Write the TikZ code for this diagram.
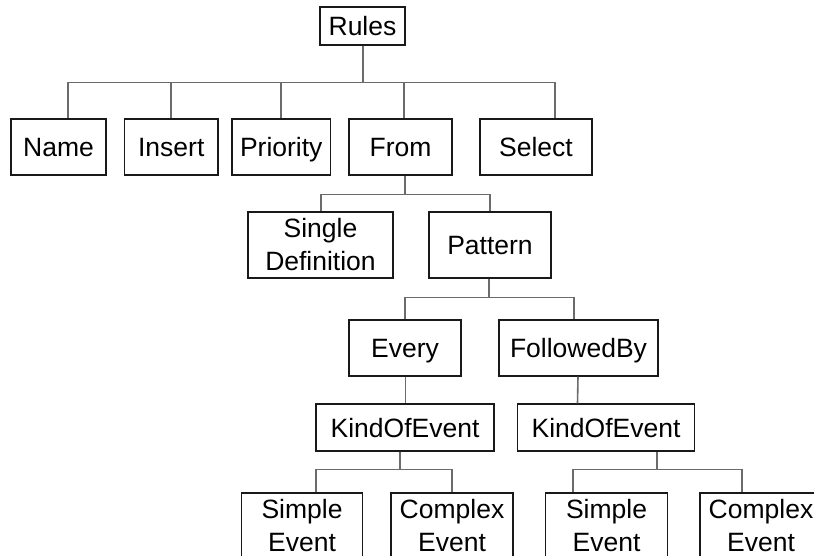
\documentclass[tikz,border=0pt]{standalone}
\usepackage{fontspec}
\setmainfont{Liberation Sans}
\begin{document}
\begin{tikzpicture}[x=1pt,y=-1pt,
  box/.style={draw=black!90,line width=1.3pt,inner sep=0pt,
    font=\fontsize{26.5}{33}\selectfont},
  oneline/.style={box,text height=19pt,text depth=0pt},
  twoline/.style={box,align=center},
  conn/.style={draw=black!58,line width=1.6pt}]
\clip (0,0) rectangle (814,556);

% root
\node[oneline,minimum width=85pt,minimum height=38pt] (rules) at (362.5,26) {Rules};

% first level
\node[oneline,minimum width=95pt,minimum height=56pt]  (name)     at (58.5,147)   {Name};
\node[oneline,minimum width=93.5pt,minimum height=56pt](insert)   at (171.25,147) {Insert};
\node[oneline,minimum width=98.5pt,minimum height=56pt](priority) at (281.25,147) {Priority};
\node[oneline,minimum width=103pt,minimum height=56pt] (from)     at (400.5,147)  {From};
\node[oneline,minimum width=112pt,minimum height=56pt] (select)   at (536,147)    {Select};

% children of From
\node[twoline,minimum width=145pt,minimum height=66pt] (single)  at (320.5,245) {Single\\Definition};
\node[oneline,minimum width=122pt,minimum height=66pt] (pattern) at (490,245)   {Pattern};

% children of Pattern
\node[oneline,minimum width=112pt,minimum height=56pt] (every)    at (405,348)   {Every};
\node[oneline,minimum width=159pt,minimum height=56pt] (followed) at (578.5,348) {FollowedBy};

% event kinds
\node[oneline,minimum width=178pt,minimum height=47pt]   (koeA) at (405,427.5) {KindOfEvent};
\node[oneline,minimum width=177.5pt,minimum height=47pt] (koeB) at (606,427.5) {KindOfEvent};

% leaves
\node[twoline,minimum width=121.5pt,minimum height=66pt] (simpleA)  at (302,526)   {Simple\\Event};
\node[twoline,minimum width=122pt,minimum height=66pt]   (complexA) at (452,526)   {Complex\\Event};
\node[twoline,minimum width=122pt,minimum height=66pt]   (simpleB)  at (606.5,526) {Simple\\Event};
\node[twoline,minimum width=122pt,minimum height=66pt]   (complexB) at (761,526)   {Complex\\Event};

% connectors: Rules
\foreach \c/\dx in {name/9.5,insert/0,priority/0,from/3.5,select/19}
  \draw[conn] ([xshift=0.5pt]rules.south) -- ++(0,37) -| ([xshift=\dx pt]\c.north);

% connectors: From
\draw[conn] ([xshift=4.5pt]from.south) -- ++(0,19) -| ([xshift=0.5pt]single.north);
\draw[conn] ([xshift=4.5pt]from.south) -- ++(0,19) -| (pattern.north);

% connectors: Pattern
\draw[conn] ([xshift=-1pt]pattern.south) -- ++(0,19) -| (every.north);
\draw[conn] ([xshift=-1pt]pattern.south) -- ++(0,19) -| ([xshift=-4.5pt]followed.north);

% connectors: Every / FollowedBy
\draw[conn] ([xshift=0.5pt]every.south) -- ([xshift=0.5pt]koeA.north);
\draw[conn] ([xshift=-0.5pt]followed.south) -- ([xshift=-28.5pt]koeB.north);

% connectors: KindOfEvent
\draw[conn] ([xshift=-5pt]koeA.south) -- ++(0,18) -| ([xshift=14pt]simpleA.north);
\draw[conn] ([xshift=-5pt]koeA.south) -- ++(0,18) -| (complexA.north);
\draw[conn] ([xshift=51pt]koeB.south) -- ++(0,18) -| ([xshift=-33.5pt]simpleB.north);
\draw[conn] ([xshift=51pt]koeB.south) -- ++(0,18) -| ([xshift=-19pt]complexB.north);
\end{tikzpicture}
\end{document}
